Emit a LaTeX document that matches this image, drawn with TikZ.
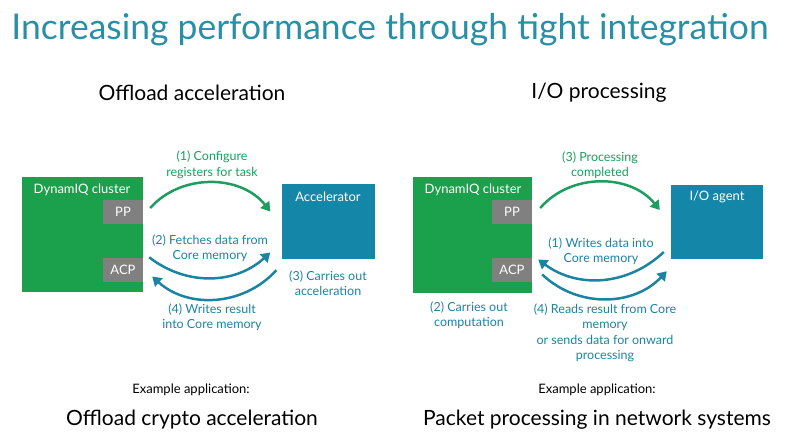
\documentclass[tikz,border=0pt]{standalone}
\usepackage{fontspec}
\setmainfont{Lato}
\usetikzlibrary{arrows.meta,positioning}
\definecolor{titleteal}{HTML}{2A8FA6}
\definecolor{clgreen}{HTML}{1BA04C}
\definecolor{agblue}{HTML}{1487A8}
\definecolor{portgray}{HTML}{808080}
\definecolor{arrgreen}{HTML}{1C9E5E}
\definecolor{arrblue}{HTML}{1C83A2}
\begin{document}
\begin{tikzpicture}[x=1pt, y=-1pt,
  cluster/.style={fill=clgreen, minimum width=121pt, minimum height=115pt, inner sep=0pt},
  port/.style={fill=portgray, text=white, minimum width=40pt, minimum height=24pt, inner sep=0pt, font=\fontsize{13}{15}\selectfont},
  agent/.style={fill=agblue, minimum width=93pt, minimum height=75pt, inner sep=0pt},
  boxtxt/.style={text=white, inner sep=0pt, font=\fontsize{13}{15}\selectfont},
  gtxt/.style={text=arrgreen, align=center, inner sep=0pt, font=\fontsize{12.5}{15.5}\selectfont},
  btxt/.style={text=arrblue, align=center, inner sep=0pt, font=\fontsize{12.5}{15.5}\selectfont},
  garrow/.style={draw=arrgreen, line width=2.5pt, -{Triangle[length=9pt,width=11pt]}},
  barrow/.style={draw=arrblue, line width=2.5pt, -{Triangle[length=9pt,width=11pt]}},
  head/.style={inner sep=0pt, font=\fontsize{21}{24}\selectfont},
  example/.style={inner sep=0pt, font=\fontsize{13}{15}\selectfont}]

  \useasboundingbox (0,0) rectangle (800,441);

  % Title
  \node[text=titleteal, inner sep=0pt, font=\fontsize{35.5}{40}\selectfont] (title) at (390,30)
    {Increasing performance through tight integration};
  \node[head] (head1) at (192,93) {Offload acceleration};
  \node[head] (head2) at (599,93) {I/O processing};

  % Offload acceleration
  \node[cluster] (cl1) at (82.5,234.5) {};
  \node[boxtxt] (cl1txt) at (82,190) {DynamIQ cluster};
  \node[port] (pp1) at (123,212) {PP};
  \node[port] (acp1) at (123,269.5) {ACP};
  \node[agent] (acc) at (328,221.5) {};
  \node[boxtxt] (acctxt) at (328,197) {Accelerator};

  \draw[garrow] ([shift={(7,-4)}]pp1.east) to[bend left=50] ([shift={(-11,-10)}]acc.west);
  \draw[barrow] ([shift={(6,0)}]acp1.north east) to[bend right=40] ([shift={(-11,31)}]acc.west);
  \draw[barrow] ([shift={(-5,11)}]acc.south west) to[bend left=45] ([shift={(9,7)}]acp1.east);

  \node[gtxt] (l1) at (212,165) {(1) Configure\\registers for task};
  \node[btxt] (l2) at (210,248) {(2) Fetches data from\\Core memory};
  \node[btxt] (l3) at (328,283) {(3) Carries out\\acceleration};
  \node[btxt] (l4) at (212,317) {(4) Writes result\\into Core memory};

  % I/O processing
  \node[cluster, minimum width=119pt, minimum height=116pt] (cl2) at (472.5,235) {};
  \node[boxtxt] (cl2txt) at (473,190) {DynamIQ cluster};
  \node[port] (pp2) at (512,212) {PP};
  \node[port] (acp2) at (512,269.5) {ACP};
  \node[agent, minimum width=92pt, minimum height=74pt] (io) at (717,222) {};
  \node[boxtxt] (iotxt) at (717,197) {I/O agent};

  \draw[garrow] ([shift={(8,-4)}]pp2.east) to[bend left=50] ([shift={(-11,-12)}]io.west);
  \draw[barrow] ([shift={(-7,30)}]io.west) to[bend left=40] ([shift={(6,-10)}]acp2.east);
  \draw[barrow] ([shift={(10,5)}]acp2.east) to[bend right=45] ([shift={(-4,12)}]io.south west);

  \node[gtxt] (r3) at (600,165) {(3) Processing\\completed};
  \node[btxt] (r1) at (601,251) {(1) Writes data into\\Core memory};
  \node[btxt] (r2) at (469,315) {(2) Carries out\\computation};
  \node[btxt] (r4) at (605,333) {(4) Reads result from Core\\memory\\or sends data for onward\\processing};

  % Example applications
  \node[example] (ex1) at (191,390) {Example application:};
  \node[head] (app1) at (192,420) {Offload crypto acceleration};
  \node[example] (ex2) at (597,390) {Example application:};
  \node[head] (app2) at (597,420) {Packet processing in network systems};
\end{tikzpicture}
\end{document}
